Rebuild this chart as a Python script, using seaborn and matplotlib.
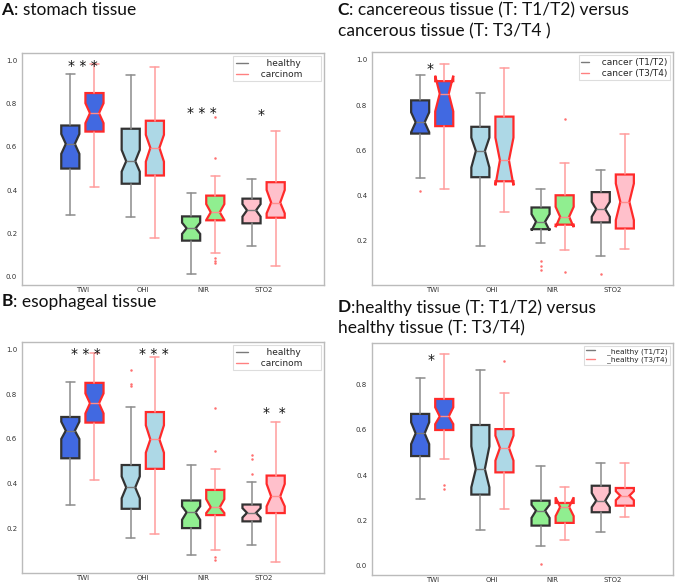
import numpy as np
import matplotlib
matplotlib.use("Agg")
import matplotlib.pyplot as plt
from matplotlib.lines import Line2D
from matplotlib.text import Annotation
import seaborn as sns

# categories and colours of the boxes
categories = ["TWI", "OHI", "NIR", "STO2"]
box_colors = ["#4169e1", "#add8e6", "#90ee90", "#ffc0cb"]

# summary rows per category: whislo, q1, median, q3, whishi, notch low, notch high
# A: stomach tissue
a_healthy = [[0.287, 0.500, 0.614, 0.699, 0.937, 0.568, 0.660],
             [0.275, 0.430, 0.534, 0.684, 0.932, 0.486, 0.586],
             [0.011, 0.167, 0.224, 0.279, 0.389, 0.198, 0.250],
             [0.140, 0.247, 0.307, 0.361, 0.451, 0.278, 0.336]]
a_healthy_fliers = [[], [], [], []]
a_carcinom = [[0.417, 0.671, 0.756, 0.849, 0.985, 0.710, 0.802],
              [0.177, 0.468, 0.596, 0.721, 0.968, 0.532, 0.656],
              [0.108, 0.261, 0.298, 0.375, 0.466, 0.262, 0.336],
              [0.052, 0.273, 0.343, 0.437, 0.673, 0.293, 0.401]]
a_carcinom_fliers = [[], [], [0.738, 0.548, 0.085, 0.074, 0.065], []]

# B: esophageal tissue
b_healthy = [[0.304, 0.514, 0.637, 0.698, 0.855, 0.600, 0.677],
             [0.159, 0.289, 0.384, 0.484, 0.742, 0.336, 0.433],
             [0.084, 0.203, 0.273, 0.326, 0.484, 0.240, 0.300],
             [0.127, 0.233, 0.271, 0.308, 0.407, 0.250, 0.292]]
b_healthy_fliers = [[], [0.907, 0.843, 0.836], [], [0.530, 0.511, 0.444]]
b_carcinom = [[0.416, 0.673, 0.759, 0.850, 0.985, 0.714, 0.803],
              [0.178, 0.467, 0.598, 0.720, 0.967, 0.539, 0.661],
              [0.105, 0.261, 0.296, 0.373, 0.465, 0.270, 0.332],
              [0.050, 0.270, 0.344, 0.437, 0.676, 0.300, 0.400]]
b_carcinom_fliers = [[], [], [0.738, 0.548, 0.074, 0.062], []]

# C: cancerous tissue T1/T2 vs T3/T4
c_t12 = [[0.476, 0.674, 0.724, 0.821, 0.934, 0.680, 0.768],
         [0.178, 0.481, 0.597, 0.704, 0.854, 0.524, 0.656],
         [0.191, 0.251, 0.284, 0.347, 0.431, 0.245, 0.318],
         [0.134, 0.281, 0.340, 0.415, 0.512, 0.306, 0.372]]
c_t12_fliers = [[0.418], [], [0.109, 0.088, 0.069], [0.051]]
c_t34 = [[0.431, 0.707, 0.850, 0.906, 0.982, 0.772, 0.930],
         [0.329, 0.463, 0.556, 0.749, 0.966, 0.445, 0.656],
         [0.159, 0.271, 0.306, 0.401, 0.546, 0.260, 0.350],
         [0.165, 0.254, 0.372, 0.493, 0.674, 0.291, 0.453]]
c_t34_fliers = [[], [], [0.737, 0.063], []]

# D: healthy tissue T1/T2 vs T3/T4
d_t12 = [[0.297, 0.485, 0.585, 0.671, 0.828, 0.538, 0.634],
         [0.159, 0.315, 0.428, 0.622, 0.866, 0.347, 0.528],
         [0.087, 0.178, 0.244, 0.288, 0.440, 0.212, 0.270],
         [0.149, 0.237, 0.288, 0.354, 0.453, 0.259, 0.322]]
d_t12_fliers = [[], [], [0.009], []]
d_t34 = [[0.472, 0.600, 0.660, 0.737, 0.937, 0.626, 0.700],
         [0.251, 0.413, 0.521, 0.604, 0.762, 0.465, 0.575],
         [0.116, 0.190, 0.260, 0.278, 0.350, 0.220, 0.303],
         [0.215, 0.266, 0.310, 0.344, 0.453, 0.290, 0.330]]
d_t34_fliers = [[0.357, 0.340], [0.906], [], []]


def make_stats(rows, fliers):
    return [dict(whislo=r[0], q1=r[1], med=r[2], q3=r[3], whishi=r[4],
                 cilo=r[5], cihi=r[6], fliers=f) for r, f in zip(rows, fliers)]


sns.set_style("white")
plt.rcParams['axes.edgecolor'] = '#bbbbbb'
plt.rcParams['axes.linewidth'] = 1.0
plt.rcParams['font.family'] = ['DejaVu Sans']

W, H = 676, 587
fig = plt.figure(figsize=(W / 100, H / 100), dpi=100)


def px_rect(left, top, right, bottom):
    return [left / W, 1 - bottom / H, (right - left) / W, (bottom - top) / H]


def draw_panel(rect, ylim, yticks, first, first_fl, second, second_fl, labels,
               leg_font, handle_len, stars):
    ax = fig.add_axes(px_rect(*rect))
    pos = np.arange(len(categories)) * 2.0
    common = dict(widths=0.6, shownotches=True, patch_artist=True, manage_ticks=False)
    fl = dict(marker='.', markersize=1.6, markeredgecolor='#ff7070',
              markerfacecolor='#ff7070')
    bp1 = ax.bxp(make_stats(first, first_fl), positions=pos - 0.4,
                 boxprops=dict(edgecolor='#333333', linewidth=1.6),
                 whiskerprops=dict(color='#8c8c8c', linewidth=1.1),
                 capprops=dict(color='#8c8c8c', linewidth=1.1),
                 medianprops=dict(color='#7a7a7a', linewidth=1.0),
                 flierprops=fl, **common)
    bp2 = ax.bxp(make_stats(second, second_fl), positions=pos + 0.4,
                 boxprops=dict(edgecolor='#ff2a2a', linewidth=1.6),
                 whiskerprops=dict(color='#ff9c9c', linewidth=1.1),
                 capprops=dict(color='#ff9c9c', linewidth=1.1),
                 medianprops=dict(color='#ff8c8c', linewidth=1.0),
                 flierprops=fl, **common)
    for bp in (bp1, bp2):
        for patch, col in zip(bp['boxes'], box_colors):
            patch.set_facecolor(col)
    ax.set_xlim(-2, 8)
    ax.set_ylim(*ylim)
    ax.set_xticks(pos)
    ax.set_xticklabels(categories)
    ax.set_yticks(yticks)
    ax.set_yticklabels(["%.1f" % v for v in yticks])
    ax.tick_params(axis='both', length=0, labelsize=5, colors='#333333')
    ax.tick_params(axis='y', pad=3.5)
    ax.tick_params(axis='x', pad=1.8)

    handles = [Line2D([], [], color='#7a7a7a', lw=1.0),
               Line2D([], [], color='#ff8080', lw=1.0)]
    leg = ax.legend(handles, labels, loc='upper right', fontsize=leg_font,
                    handlelength=handle_len, borderpad=0.3, labelspacing=0.2,
                    borderaxespad=0.35, fancybox=False, framealpha=1)
    leg.get_frame().set_edgecolor('#dddddd')
    leg.get_frame().set_linewidth(0.8)

    for x, y, s in stars:
        ax.annotate(s, xy=(x, y), xytext=(0, -5.9), textcoords='offset points',
                    ha='center', va='baseline', fontsize=10, color='#111111')
    return ax


def panel_title(x, y, letter, rest):
    t = fig.text(x / W, 1 - y / H, letter, fontsize=12.5, fontweight='bold',
                 family='Lato', va='baseline', color='#111111')
    ann = Annotation(rest, xy=(1, 0), xycoords=t, ha='left', va='bottom',
                     fontsize=12.5, family='Lato', color='#111111')
    fig.add_artist(ann)


def title_line(x, y, s):
    fig.text(x / W, 1 - y / H, s, fontsize=12.5, family='Lato', va='baseline',
             color='#111111')


yt_full = [0.0, 0.2, 0.4, 0.6, 0.8, 1.0]
yt_top = [0.2, 0.4, 0.6, 0.8, 1.0]
yt_low = [0.0, 0.2, 0.4, 0.6, 0.8]

draw_panel((22, 53, 324, 285), (-0.038, 1.034), yt_full,
           a_healthy, a_healthy_fliers, a_carcinom, a_carcinom_fliers,
           ["    healthy      ", "  carcinom    "], 6.5, 1.3,
           [(0.0, 0.995, "* * *"), (3.94, 0.778, "* * *"), (5.9, 0.769, "*")])
draw_panel((22, 342, 324, 573), (0.003, 1.032), yt_top,
           b_healthy, b_healthy_fliers, b_carcinom, b_carcinom_fliers,
           ["    healthy      ", "  carcinom    "], 6.5, 1.3,
           [(0.1, 0.998, "* * *"), (2.38, 0.998, "* * *"), (6.37, 0.736, "*  *")])
draw_panel((372, 52, 673, 285), (0.004, 1.035), yt_top,
           c_t12, c_t12_fliers, c_t34, c_t34_fliers,
           ["  cancer (T1/T2)", "  cancer (T3/T4)"], 6.5, 0.8,
           [(-0.07, 0.979, "*")])
draw_panel((372, 343, 673, 575), (-0.04, 0.984), yt_low,
           d_t12, d_t12_fliers, d_t34, d_t34_fliers,
           ["   _healthy (T1/T2)", "   _healthy (T3/T4)"], 5.3, 1.1,
           [(-0.04, 0.928, "*")])

panel_title(1.5, 15, "A", ": stomach tissue")
panel_title(1.5, 306.5, "B", ": esophageal tissue")
panel_title(337.5, 15, "C", ": cancereous tissue (T: T1/T2) versus")
title_line(337.5, 36, "cancerous tissue (T: T3/T4 )")
panel_title(337.5, 312.5, "D", ":healthy tissue (T: T1/T2) versus")
title_line(337.5, 332.5, "healthy tissue (T: T3/T4)")

fig.savefig("out.png", dpi=100)
